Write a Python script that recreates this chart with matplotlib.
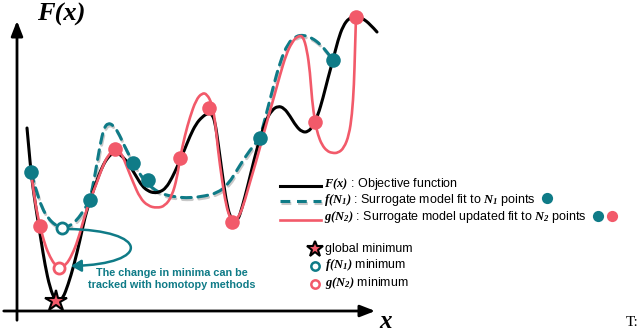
import matplotlib.pyplot as plt
from matplotlib.patches import FancyArrowPatch, PathPatch
from matplotlib.path import Path

plt.rcParams['mathtext.fontset'] = 'custom'
plt.rcParams['mathtext.it'] = 'Liberation Serif:bold:italic'
plt.rcParams['mathtext.rm'] = 'Liberation Serif:bold:italic'
plt.rcParams['mathtext.bf'] = 'Liberation Serif:bold:italic'

TEAL = "#0f7b87"
RED = "#f25a6a"

# -------- Curves (pixel units) --------
F_x = [27, 29, 31, 34, 37, 41, 45, 50, 55, 58, 63, 68, 74, 80, 85, 90, 96, 102, 108, 113,
       118, 124, 130, 136, 142, 148, 154, 160, 166, 172, 178, 184, 190, 196, 202, 208, 212,
       215, 218, 222, 226, 230, 234, 238, 242, 248, 254, 260, 266, 272, 278, 284, 290, 296,
       302, 308, 313, 318, 323, 328, 333, 338, 343, 349, 356, 362, 370, 377]
F_y = [128, 150, 172, 195, 215, 240, 265, 288, 300, 303, 298, 285, 265, 240, 217, 200, 183,
       167, 157, 153, 153, 158, 166, 176, 186, 191, 193, 192, 188, 178, 165, 151, 136, 124,
       117, 113, 114, 122, 142, 172, 200, 217, 222, 220, 208, 185, 160, 138, 120, 110, 106,
       108, 116, 126, 132, 132, 126, 115, 98, 78, 60, 40, 26, 18, 16, 18, 24, 32]

f1_x = [31, 36, 42, 48, 55, 62, 70, 77, 84, 90, 95, 100, 104, 108, 113, 118, 124, 130, 136,
        144, 152, 162, 175, 190, 205, 217, 228, 240, 250, 260, 266, 273, 280, 288, 296, 304,
        312, 320, 327, 333]
f1_y = [172, 190, 208, 218, 225, 228, 226, 220, 210, 200, 175, 145, 128, 123, 125, 132, 145,
        157, 168, 180, 188, 194, 197, 198, 196, 193, 185, 165, 150, 138, 115, 88, 62, 43, 36,
        35, 38, 44, 52, 60]

g2_x = [31, 34, 37, 40, 45, 50, 55, 60, 66, 72, 78, 84, 90, 96, 102, 108, 115, 121, 127, 133,
        140, 148, 157, 165, 172, 177, 180, 185, 190, 196, 202, 207, 212, 215, 218, 222, 226,
        230, 234, 238, 243, 250, 256, 262, 268, 274, 280, 286, 292, 298, 303, 307, 310, 312,
        315, 318, 322, 327, 332, 338, 344, 349, 352, 354, 355, 356]
g2_y = [172, 195, 212, 226, 245, 257, 265, 268, 265, 255, 240, 218, 200, 185, 168, 155, 149,
        152, 167, 182, 198, 206, 208, 206, 196, 178, 158, 135, 117, 100, 93, 94, 104, 120, 150,
        180, 205, 218, 222, 218, 207, 182, 162, 140, 118, 97, 75, 55, 42, 36, 36, 50, 72, 100,
        122, 135, 145, 151, 153, 153, 148, 135, 115, 85, 50, 17]

# sample points
N1_x = [31, 90, 133, 148, 260, 333]
N1_y = [172, 200, 163, 180, 138, 60]
N2_x = [40, 115, 180, 209, 232, 315, 356]
N2_y = [226, 149, 158, 108, 222, 122, 17]

# minima
glob_min = (56, 301)
f1_min = (62, 228)
g2_min = (59, 268)


def smooth_path(xs, ys):
    # quadratic segments through midpoints, read points used as control points
    pts = list(zip(xs, ys))
    verts = [pts[0]]
    codes = [Path.MOVETO]
    for i in range(1, len(pts) - 1):
        mid = ((pts[i][0] + pts[i + 1][0]) / 2, (pts[i][1] + pts[i + 1][1]) / 2)
        if i == len(pts) - 2:
            mid = pts[-1]
        verts += [pts[i], mid]
        codes += [Path.CURVE3, Path.CURVE3]
    return Path(verts, codes)


def curve(ax, xs, ys, dx=0, dy=0, **kw):
    p = smooth_path([x + dx for x in xs], [y + dy for y in ys])
    ax.add_patch(PathPatch(p, fill=False, capstyle="round", joinstyle="round", **kw))


fig = plt.figure(figsize=(6.4, 3.32), dpi=100)
ax = fig.add_axes([0, 0, 1, 1])
ax.set_xlim(0, 640)
ax.set_ylim(332, 0)
ax.axis("off")

# -------- Axes arrows --------
ax.annotate("", xy=(17, 18), xytext=(17, 323),
            arrowprops=dict(arrowstyle="-|>,head_length=0.9,head_width=0.35", lw=2, color="black"))
ax.annotate("", xy=(378, 311), xytext=(1, 311),
            arrowprops=dict(arrowstyle="-|>,head_length=0.9,head_width=0.35", lw=2, color="black"))
ax.text(61, 14, "F(x)", family="Liberation Serif", style="italic", weight="bold",
        fontsize=19, ha="center", va="center")
ax.text(386, 322, "x", family="Liberation Serif", style="italic", weight="bold",
        fontsize=18, ha="center", va="center")
ax.text(632, 322, "T:", family="Liberation Serif", fontsize=11, ha="center", va="center")

# -------- Curves --------
curve(ax, f1_x, f1_y, dx=1, dy=2, color="#c8c8c8", lw=2.2, linestyle=(0, (3.2, 2.2)), zorder=2)
curve(ax, f1_x, f1_y, color=TEAL, lw=2.2, linestyle=(0, (3.2, 2.2)), zorder=3)
curve(ax, F_x, F_y, color="black", lw=2.2, zorder=4)
curve(ax, g2_x, g2_y, color=RED, lw=1.9, zorder=5)

ax.scatter(N1_x, N1_y, s=110, color=TEAL, zorder=6, linewidths=0)
ax.scatter(N2_x, N2_y, s=110, color=RED, zorder=6, linewidths=0)

ax.plot(*glob_min, marker="*", ms=16, mfc=RED, mec="black", mew=1.5, zorder=7)
ax.plot(*f1_min, marker="o", ms=8, mfc="white", mec=TEAL, mew=2, zorder=7)
ax.plot(*g2_min, marker="o", ms=8, mfc="white", mec=RED, mew=2, zorder=7)

# curved homotopy arrow
loop = Path([(67, 229), (150, 230), (152, 264), (71, 266)],
            [Path.MOVETO, Path.CURVE4, Path.CURVE4, Path.CURVE4])
ax.add_patch(FancyArrowPatch(path=loop, arrowstyle="-|>,head_length=6,head_width=3.5",
                             color=TEAL, lw=1.8, zorder=6))
ax.text(172, 279, "The change in minima can be\ntracked with homotopy methods",
        color=TEAL, fontsize=7.8, weight="bold", family="Liberation Sans",
        ha="center", va="center", linespacing=1.3)

# -------- Legend --------
fs = 9
ax.plot([280, 321], [186, 186], color="black", lw=2.2)
ax.plot([281, 322], [203, 203], color="#c8c8c8", lw=2.2, dashes=(3.2, 2.2))
ax.plot([280, 321], [201, 201], color=TEAL, lw=2.2, dashes=(3.2, 2.2))
ax.plot([280, 321], [220, 220], color=RED, lw=1.9)
ax.text(324, 184, r"$F(x)$" + " : Objective function", fontsize=fs,
        family="Liberation Sans", va="center")
ax.text(324, 200, r"$f(N_1)$" + " : Surrogate model fit to " + r"$N_1$" + " points",
        fontsize=fs, family="Liberation Sans", va="center")
ax.text(324, 217, r"$g(N_2)$" + " : Surrogate model updated fit to " + r"$N_2$" + " points",
        fontsize=fs, family="Liberation Sans", va="center")
ax.scatter([547], [198], s=65, color=TEAL, linewidths=0)
ax.scatter([598], [216], s=65, color=TEAL, linewidths=0)
ax.scatter([612], [216], s=65, color=RED, linewidths=0)

ax.plot(315, 249, marker="*", ms=12, mfc=RED, mec="black", mew=1.5)
ax.plot(315, 266, marker="o", ms=6, mfc="white", mec=TEAL, mew=1.8)
ax.plot(315, 284, marker="o", ms=6, mfc="white", mec=RED, mew=1.8)
ax.text(325, 249, "global minimum", fontsize=fs, family="Liberation Sans", va="center")
ax.text(325, 265, r"$f(N_1)$" + " minimum", fontsize=fs, family="Liberation Sans", va="center")
ax.text(325, 283, r"$g(N_2)$" + " minimum", fontsize=fs, family="Liberation Sans", va="center")

fig.savefig("out.png", dpi=100)
